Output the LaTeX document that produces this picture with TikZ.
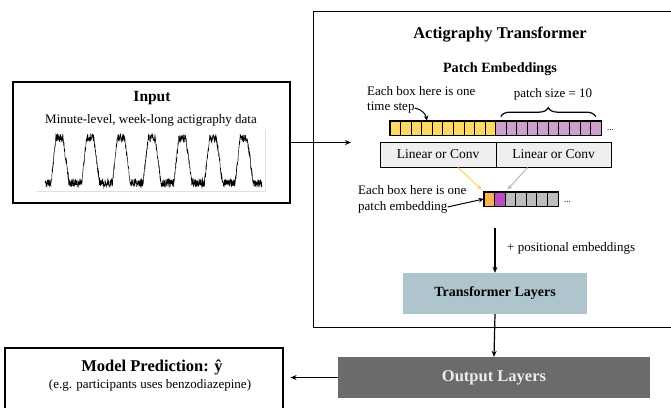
\documentclass[tikz,border=0pt]{standalone}
\usepackage{fontspec}
\setmainfont{Liberation Serif}
\definecolor{tsyel}{HTML}{FFD966}
\definecolor{tspur}{HTML}{CC9FCC}
\definecolor{peora}{HTML}{F9B452}
\definecolor{pemag}{HTML}{BB4CC4}
\definecolor{pegry}{HTML}{BDBBBB}
\definecolor{linfill}{HTML}{EFEFEF}
\definecolor{tlfill}{HTML}{AEC5CD}
\definecolor{outfill}{HTML}{6B6B6B}
\definecolor{yelarr}{HTML}{FFD54F}
\definecolor{purarr}{HTML}{D4A6D6}
\usetikzlibrary{arrows.meta,decorations.pathreplacing}

\begin{document}
\begin{tikzpicture}[x=1pt,y=-1pt,
    fr/.style={draw=black,line width=1.2pt,inner sep=0pt},
    cl/.style={draw=black,line width=0.7pt,minimum width=10.55pt,
      minimum height=14pt,inner sep=0pt},
    lc/.style={draw=black,line width=1pt,fill=linfill,minimum height=25pt,
      inner sep=0pt,font=\fontsize{13.5}{16}\selectfont},
    tx/.style={inner sep=0pt,font=\fontsize{13}{16}\selectfont},
    sm/.style={inner sep=0pt,font=\fontsize{9}{11}\selectfont},
    ar/.style={-{Stealth[length=6pt,width=5pt]},black,line width=1.2pt},
    ta/.style={-{Stealth[length=5pt,width=4.5pt]},line width=1pt},
    sig/.style={black,line width=0.5pt},
  ]
    \useasboundingbox (0,0) rectangle (671,407);
    \clip (0,0) rectangle (671,407);

    \node[fr,minimum width=277pt,minimum height=121pt](inp) at (151.5,142.5) {};
    \node[inner sep=0pt,font=\fontsize{15.5}{18}\selectfont\bfseries](inpt) at (152,98) {Input};
    \node[tx](inps) at (151,120) {Minute-level, week-long actigraphy data};
    \draw[gray!25,line width=0.5pt] (37,191) -- (265,191) -- (265,130);
    \pgfmathsetseed{11}
    \draw[sig] plot[domain=45:262,samples=1100]
      (\x,{183-45*max(0,min(1,mod(\x+256,30.7)/5,(18-mod(\x+256,30.7))/6))+4*rand});

    \node[draw=black,line width=1pt,minimum width=377pt,minimum height=316pt,
      inner sep=0pt](tbox) at (501.5,169) {};
    \node[inner sep=0pt,font=\fontsize{16.4}{19}\selectfont\bfseries](ttl) at (500,35)
      {Actigraphy Transformer};
    \node[inner sep=0pt,font=\fontsize{14.2}{17}\selectfont\bfseries](pttl) at (500,69)
      {Patch Embeddings};

    \foreach \i in {1,...,10}
      \node[cl,fill=tsyel](ts\i) at ({384.725+\i*10.55},128) {};
    \foreach \i in {11,...,20}
      \node[cl,fill=tspur](ts\i) at ({384.725+\i*10.55},128) {};
    \draw[line width=1.2pt] (ts1.north west) rectangle (ts20.south east);
    \node[sm,anchor=west](tsdot) at (607,130) {...};
    \draw[decorate,decoration={brace,amplitude=9pt},line width=1.2pt]
      ([yshift=4pt]ts11.north) -- ([yshift=4pt]ts20.north);
    \node[tx](psz) at (553,94) {patch size = 10};
    \node[tx,anchor=west](tsa) at (367,91) {Each box here is one};
    \node[tx,anchor=west](tsb) at (367,108) {time step};
    \draw[ta] (tsb.east) to[out=-10,in=100] (ts4.north);

    \node[lc,minimum width=116pt](lin1) at (438,154.5) {Linear or Conv};
    \node[lc,minimum width=115pt](lin2) at (553.5,154.5) {Linear or Conv};

    \node[cl,fill=peora](pe1) at (489.275,199) {};
    \node[cl,fill=pemag](pe2) at (499.825,199) {};
    \foreach \i in {3,...,7}
      \node[cl,fill=pegry](pe\i) at ({478.725+\i*10.55},199) {};
    \draw[line width=1.2pt] (pe1.north west) rectangle (pe7.south east);
    \node[sm,anchor=west](pedot) at (564,202) {...};
    \node[tx,anchor=west](pea) at (358,190) {Each box here is one};
    \node[tx,anchor=west](peb) at (358,207) {patch embedding};
    \draw[ta] (peb.east) -- (pe1.west);
    \draw[ta,yelarr] ([xshift=20pt]lin1.south) -- ([shift={(-2pt,2pt)}]pe1.north west);
    \draw[ta,purarr] ([xshift=-26pt]lin2.south) -- ([shift={(2pt,2pt)}]pe2.north east);

    \node[fill=tlfill,minimum width=184pt,minimum height=41pt,
      font=\fontsize{14}{16}\selectfont\bfseries](tl) at (495,293.5) {Transformer Layers};
    \coordinate(pin) at (495,228);
    \draw[ar] (pin) -- (tl.north);
    \node[tx,anchor=west](posl) at (507,248) {+ positional embeddings};

    \node[fill=outfill,text=white!93!black,minimum width=312pt,minimum height=41pt,
      font=\fontsize{16.5}{19}\selectfont\bfseries](out) at (494,377.5) {Output Layers};
    \draw[ar] (tl.south) -- (out.north);

    \node[fr,minimum width=278pt,minimum height=70pt](pred) at (144,383) {};
    \node[inner sep=0pt,font=\fontsize{16.5}{19}\selectfont\bfseries](predt) at (152,367)
      {Model Prediction: ŷ};
    \node[tx](preds) at (150,385) {(e.g. participants uses benzodiazepine)};
    \draw[ar,shorten >=7pt] (out.west) -- (out.west -| pred.east);

    \coordinate(tin) at (351,142.5);
    \draw[ar] (inp.east) -- (tin);
  \end{tikzpicture}
\end{document}
